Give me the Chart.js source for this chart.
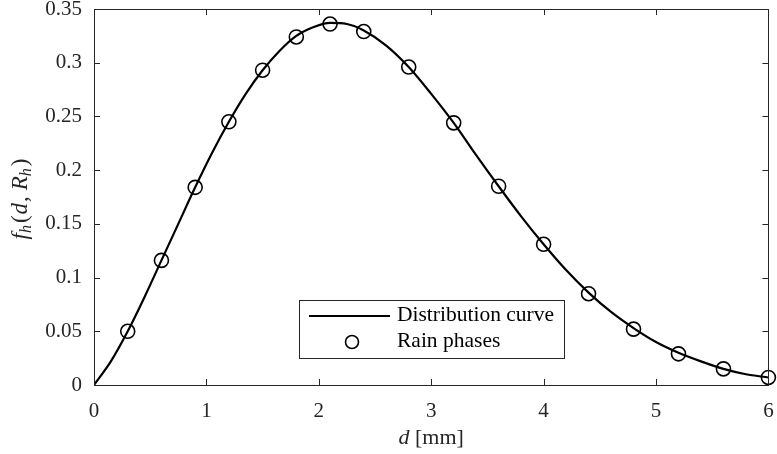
<!DOCTYPE html>
<html>
<head>
<meta charset="utf-8">
<script src="https://cdn.jsdelivr.net/npm/chart.js@4/dist/chart.umd.min.js"></script>
<style>
  html, body { margin: 0; padding: 0; background: #fff; }
  canvas { display: block; }
</style>
</head>
<body>
<canvas id="grafico" width="777" height="454"></canvas>
<script>
// curva
const curvaX = [0, 0.15, 0.3, 0.45, 0.6, 0.75, 0.9, 1.05, 1.2, 1.35, 1.5, 1.65, 1.8, 1.95, 2.1, 2.25, 2.4, 2.6, 2.8, 3.0, 3.2, 3.4, 3.6, 3.8, 4.0, 4.2, 4.4, 4.6, 4.8, 5.0, 5.2, 5.4, 5.6, 5.8, 6.0];
const curvaY = [0, 0.022, 0.050, 0.082, 0.116, 0.150, 0.184, 0.216, 0.245, 0.271, 0.293, 0.311, 0.325, 0.333, 0.337, 0.336, 0.330, 0.316, 0.296, 0.271, 0.244, 0.214, 0.185, 0.157, 0.131, 0.107, 0.086, 0.068, 0.053, 0.040, 0.030, 0.022, 0.015, 0.010, 0.007];

// fases de chuva (círculos)
const fasesX = [0.3, 0.6, 0.9, 1.2, 1.5, 1.8, 2.1, 2.4, 2.8, 3.2, 3.6, 4.0, 4.4, 4.8, 5.2, 5.6, 6.0];
const fasesY = [0.050, 0.116, 0.184, 0.245, 0.293, 0.324, 0.336, 0.329, 0.296, 0.244, 0.185, 0.131, 0.085, 0.052, 0.029, 0.015, 0.007];

const ticksX = [0, 1, 2, 3, 4, 5, 6];
const ticksY = [0, 0.05, 0.1, 0.15, 0.2, 0.25, 0.3, 0.35];

const nomesSeries = ['Distribution curve', 'Rain phases'];

const corEixo = '#262626';
const fonte = '"Liberation Serif", "DejaVu Serif", serif';

// caixa, ticks para dentro, títulos e legenda
const pluginMoldura = {
    id: 'moldura',
    afterDraw(chart) {
        const ctx = chart.ctx;
        const a = chart.chartArea;
        const sx = chart.scales.x, sy = chart.scales.y;
        ctx.save();
        ctx.strokeStyle = corEixo;
        ctx.lineWidth = 1;
        ctx.strokeRect(Math.round(a.left) + 0.5, Math.round(a.top) + 0.5, Math.round(a.right - a.left), Math.round(a.bottom - a.top));
        ctx.beginPath();
        ticksX.forEach(v => {
            const px = Math.round(sx.getPixelForValue(v)) + 0.5;
            ctx.moveTo(px, a.bottom); ctx.lineTo(px, a.bottom - 6);
            ctx.moveTo(px, a.top); ctx.lineTo(px, a.top + 6);
        });
        ticksY.forEach(v => {
            const py = Math.round(sy.getPixelForValue(v)) + 0.5;
            ctx.moveTo(a.left, py); ctx.lineTo(a.left + 6, py);
            ctx.moveTo(a.right, py); ctx.lineTo(a.right - 6, py);
        });
        ctx.stroke();

        // título x: d [mm]
        ctx.fillStyle = corEixo;
        ctx.textBaseline = 'alphabetic';
        const cx = (a.left + a.right) / 2;
        ctx.font = 'italic 22px ' + fonte;
        const wd = ctx.measureText('d').width;
        ctx.font = '22px ' + fonte;
        const wr = ctx.measureText(' [mm]').width;
        let x0 = cx - (wd + wr) / 2;
        ctx.font = 'italic 22px ' + fonte;
        ctx.fillText('d', x0, 444);
        ctx.font = '22px ' + fonte;
        ctx.fillText(' [mm]', x0 + wd, 444);

        // título y: f_h(d, R_h)
        const partes = [
            { t: 'f', f: 'italic 23px', dy: 0, g: 0 },
            { t: 'h', f: 'italic 16px', dy: 4, g: 2 },
            { t: '(', f: '23px', dy: 0, g: 1 },
            { t: 'd', f: 'italic 23px', dy: 0, g: 1 },
            { t: ',', f: '23px', dy: 0, g: 6 },
            { t: 'R', f: 'italic 23px', dy: 0, g: 0 },
            { t: 'h', f: 'italic 16px', dy: 4, g: 2 },
            { t: ')', f: '23px', dy: 0, g: 0 }
        ];
        let total = 0;
        partes.forEach(p => { ctx.font = p.f + ' ' + fonte; p.w = ctx.measureText(p.t).width + p.g; total += p.w; });
        ctx.translate(27, (a.top + a.bottom) / 2 + 2);
        ctx.rotate(-Math.PI / 2);
        let px = -total / 2;
        partes.forEach(p => {
            ctx.font = p.f + ' ' + fonte;
            ctx.fillText(p.t, px, p.dy);
            px += p.w;
        });
        ctx.setTransform(1, 0, 0, 1, 0, 0);

        // legenda
        const lx = 299.5, ly = 300.5, lw = 265, lh = 58;
        ctx.fillStyle = '#fff';
        ctx.fillRect(lx, ly, lw, lh);
        ctx.strokeStyle = corEixo;
        ctx.lineWidth = 1;
        ctx.strokeRect(lx, ly, lw, lh);
        ctx.strokeStyle = '#000';
        ctx.lineWidth = 2.2;
        ctx.beginPath();
        ctx.moveTo(309, 316); ctx.lineTo(390, 316);
        ctx.stroke();
        ctx.lineWidth = 1.6;
        ctx.beginPath();
        ctx.arc(352, 342, 6.5, 0, Math.PI * 2);
        ctx.stroke();
        ctx.fillStyle = '#000';
        ctx.font = '21.5px ' + fonte;
        ctx.textBaseline = 'middle';
        ctx.fillText(nomesSeries[0], 397, 315);
        ctx.fillText(nomesSeries[1], 397, 341);
        ctx.restore();
    }
};

new Chart(document.getElementById('grafico'), {
    type: 'scatter',
    data: {
        datasets: [
            {
                label: nomesSeries[0],
                data: curvaX.map((x, i) => ({ x, y: curvaY[i] })),
                showLine: true,
                borderColor: '#000',
                borderWidth: 2.2,
                pointRadius: 0,
                cubicInterpolationMode: 'monotone',
                order: 2
            },
            {
                label: nomesSeries[1],
                data: fasesX.map((x, i) => ({ x, y: fasesY[i] })),
                showLine: false,
                borderColor: '#000',
                backgroundColor: 'rgba(0,0,0,0)',
                borderWidth: 1.6,
                pointRadius: 7,
                pointStyle: 'circle',
                clip: false,
                order: 1
            }
        ]
    },
    options: {
        responsive: false,
        animation: false,
        devicePixelRatio: 1,
        layout: { padding: { top: 9, right: 8, left: 0, bottom: 0 } },
        plugins: { legend: { display: false }, tooltip: { enabled: false } },
        scales: {
            x: {
                type: 'linear',
                min: 0, max: 6,
                afterBuildTicks: s => { s.ticks = ticksX.map(v => ({ value: v })); },
                afterFit: s => { s.height = 69; s.paddingLeft = 0; s.paddingRight = 0; },
                grid: { display: false, drawTicks: false },
                border: { display: false },
                ticks: {
                    color: corEixo,
                    font: { family: fonte, size: 21 },
                    padding: 14,
                    maxRotation: 0
                }
            },
            y: {
                type: 'linear',
                min: 0, max: 0.35,
                afterBuildTicks: s => { s.ticks = ticksY.map(v => ({ value: v })); },
                afterFit: s => { s.width = 94; s.paddingTop = 0; s.paddingBottom = 0; },
                grid: { display: false, drawTicks: false },
                border: { display: false },
                ticks: {
                    color: corEixo,
                    font: { family: fonte, size: 21 },
                    padding: 12,
                    callback: v => String(+v.toFixed(2))
                }
            }
        }
    },
    plugins: [pluginMoldura]
});
</script>
</body>
</html>
